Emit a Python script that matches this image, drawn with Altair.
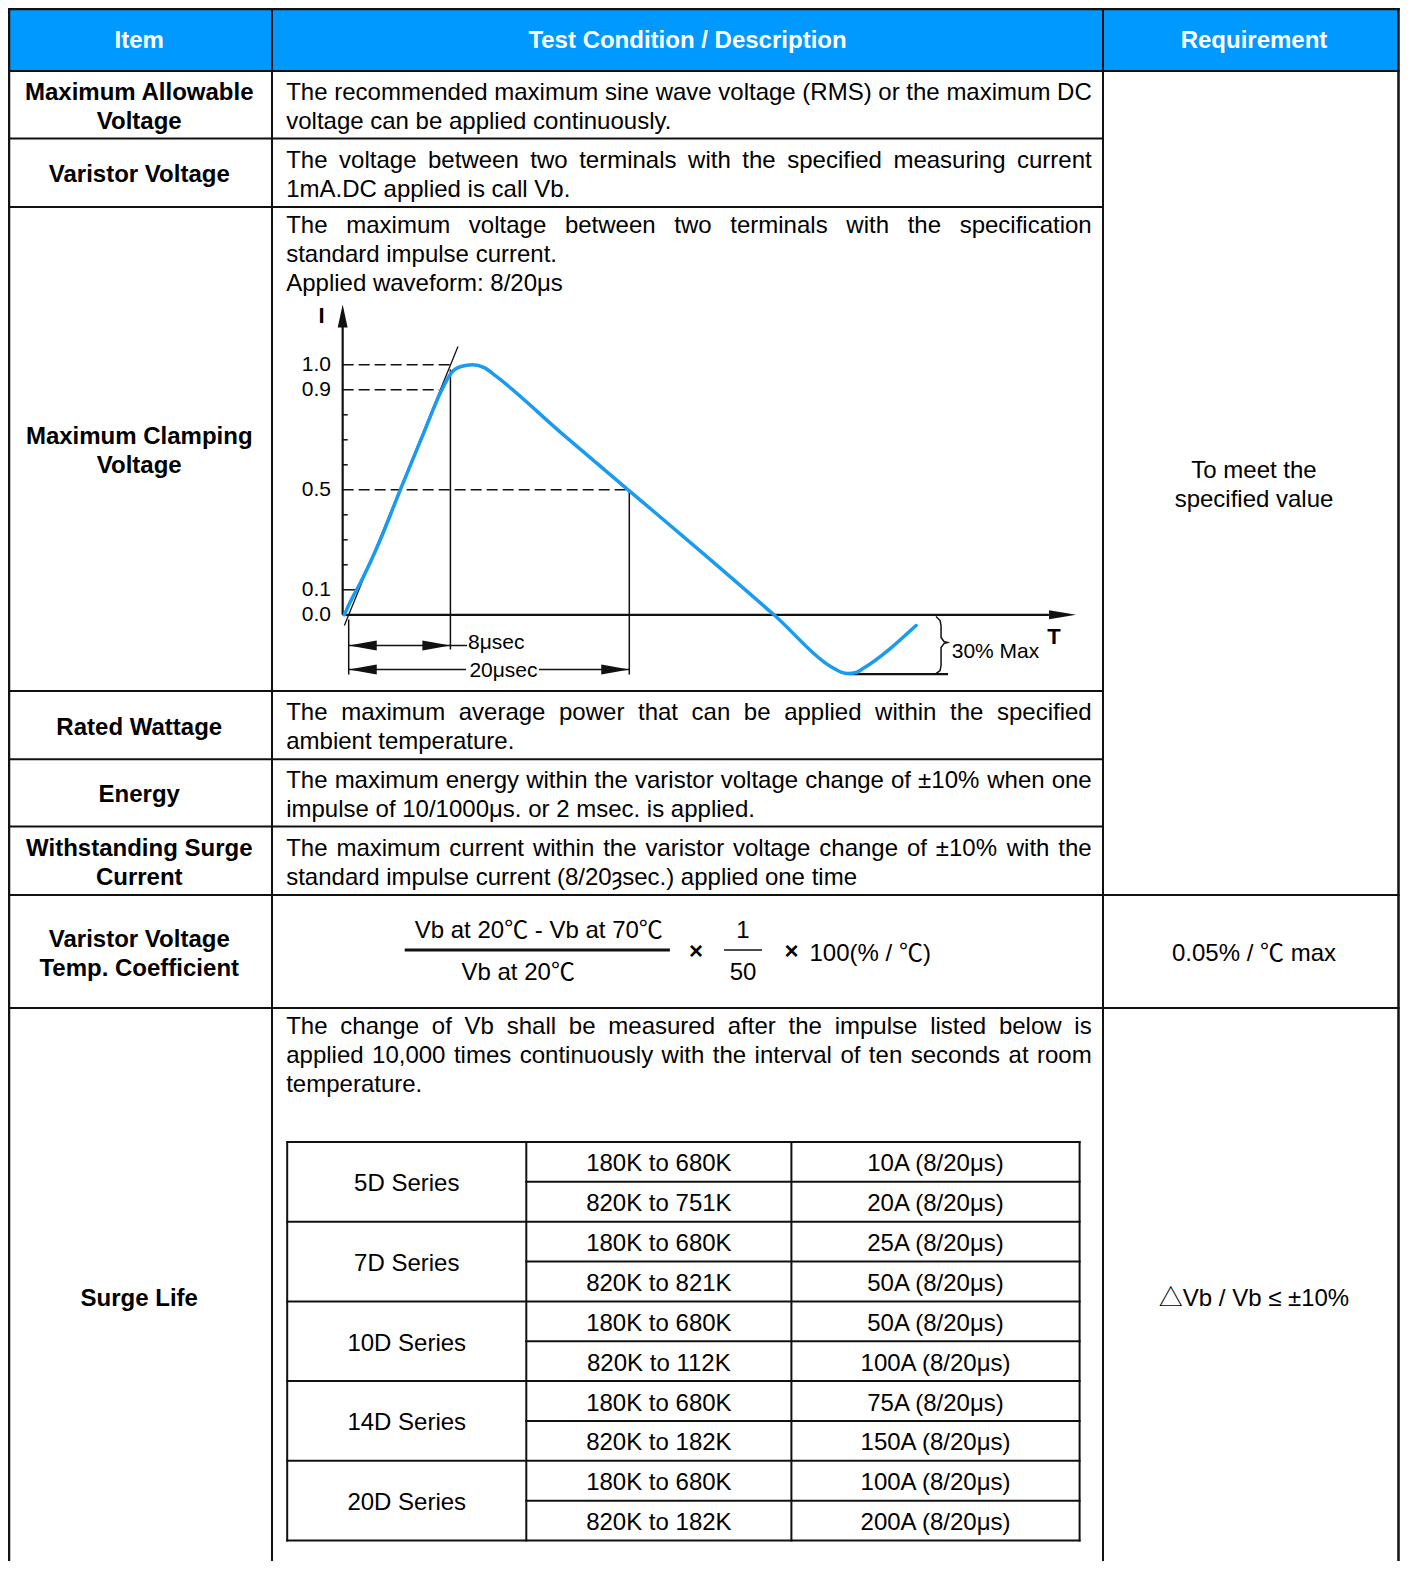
import altair as alt
import pandas as pd

# ============================ content ============================
header_labels = ["Item", "Test Condition / Description", "Requirement"]

item_labels = [
    ["Maximum Allowable", "Voltage"],
    ["Varistor Voltage"],
    ["Maximum Clamping", "Voltage"],
    ["Rated Wattage"],
    ["Energy"],
    ["Withstanding Surge", "Current"],
    ["Varistor Voltage", "Temp. Coefficient"],
    ["Surge Life"],
]

# each row: list of paragraphs, each paragraph a list of lines
description_paragraphs = [
    [["The recommended maximum sine wave voltage (RMS) or the maximum DC",
      "voltage can be applied continuously."]],
    [["The voltage between two terminals with the specified measuring current",
      "1mA.DC applied is call Vb."]],
    [["The maximum voltage between two terminals with the specification",
      "standard impulse current."],
     ["Applied waveform: 8/20μs"]],
    [["The maximum average power that can be applied within the specified",
      "ambient temperature."]],
    [["The maximum energy within the varistor voltage change of ±10% when one",
      "impulse of 10/1000μs. or 2 msec. is applied."]],
    [["The maximum current within the varistor voltage change of ±10% with the",
      "standard impulse current (8/20ȝsec.) applied one time"]],
    [],
    [["The change of Vb shall be measured after the impulse listed below is",
      "applied 10,000 times continuously with the interval of ten seconds at room",
      "temperature."]],
]
description_top = [False, False, True, False, False, False, False, True]

requirement_texts = [["To meet the", "specified value"], ["0.05% / ℃ max"], ["△Vb / Vb ≤ ±10%"]]
requirement_rows = [(0, 5), (6, 6), (7, 7)]

formula_numerator = "Vb at 20℃ - Vb at 70℃"
formula_denominator = "Vb at 20℃"
formula_factor_num = "1"
formula_factor_den = "50"
formula_times = "×"
formula_tail = "100(% / ℃)"

surge_series = ["5D Series", "7D Series", "10D Series", "14D Series", "20D Series"]
surge_ranges = ["180K to 680K", "820K to 751K", "180K to 680K", "820K to 821K",
                "180K to 680K", "820K to 112K", "180K to 680K", "820K to 182K",
                "180K to 680K", "820K to 182K"]
surge_currents = ["10A (8/20μs)", "20A (8/20μs)", "25A (8/20μs)", "50A (8/20μs)",
                  "50A (8/20μs)", "100A (8/20μs)", "75A (8/20μs)", "150A (8/20μs)",
                  "100A (8/20μs)", "200A (8/20μs)"]

# ---------------- waveform 8/20 (schematic time, current / peak) ----------------
wave_t = [-0.31, 0.09, 0.88, 2.30, 3.72, 5.39, 6.58, 7.29, 8.00, 8.84, 9.66, 10.38,
          15.1, 20.00, 25.11, 30.31, 34.59, 35.09, 35.59, 36.16, 36.66, 40.44]
wave_i = [0.0, 0.049, 0.133, 0.306, 0.506, 0.733, 0.893, 0.966, 0.993, 1.0, 0.989, 0.96,
          0.73, 0.496, 0.253, 0.0, -0.215, -0.229, -0.235, -0.231, -0.215, -0.043]
tangent_t = [-0.31, 7.79]
tangent_i = [-0.043, 1.073]
level_values = [1.0, 0.9, 0.5]
level_ends = [7.3, 6.44, 20.0]
tick_label_values = [1.0, 0.9, 0.5, 0.1, 0.0]
tick_labels = ["1.0", "0.9", "0.5", "0.1", "0.0"]
minor_tick_values = [0.2, 0.3, 0.4, 0.6, 0.7, 0.8]
front_time = 7.25        # the "8μsec" marker as drawn
half_time = 20.0         # the "20μsec" marker as drawn
front_label = "8μsec"
half_label = "20μsec"
undershoot_level = -0.2376
undershoot_label = "30% Max"
undershoot_from = 35.65
brace_t = [41.86, 42.15, 42.22, 42.22, 42.43, 42.68, 42.43, 42.22, 42.22, 42.15, 41.86]
brace_i = [-0.007, -0.023, -0.043, -0.091, -0.107, -0.111, -0.115, -0.131, -0.203, -0.223, -0.235]

# ============================ layout ============================
FONT = "Liberation Sans, 'Noto Sans CJK SC', sans-serif"
INK = "#111111"
HEAD_BLUE = "#0099FF"
CURVE_BLUE = "#1A9BF2"
FS = 24
LH = 29
TDY = 1.5                            # text baseline nudge

PLOT_W, PLOT_H = 1392, 1553          # drawing area (page px 8 .. 8+size)
col_x = [6.5, 272, 1103, 1405]       # cell edges (for centring)
col_draw = [9.0, 272, 1103, 1398.5]  # drawn border lines
row_y = [6, 71, 138.6, 206.9, 691, 759.3, 826.5, 895, 1008, 1585]
TOP_DRAW = 9.0
BOTTOM = 1575
TEXT_L, TEXT_R = 286.2, 1091.7
sub_x = [287.2, 526.3, 791.4, 1079.6]
sub_top, sub_h = 1141.9, 39.87

W = {' ': 278, '!': 278, '"': 355, '#': 556, '$': 556, '%': 889, '&': 667, "'": 191,
     '(': 333, ')': 333, '*': 389, '+': 584, ',': 278, '-': 333, '.': 278, '/': 278,
     ':': 278, ';': 278, '<': 584, '=': 584, '>': 584, '?': 556, '@': 1015,
     '[': 278, ']': 278, '±': 584, 'μ': 576, 'ȝ': 500}
for ch in "0123456789":
    W[ch] = 556
for ch, w in zip("ABCDEFGHIJKLMNOPQRSTUVWXYZ",
                 [667, 667, 722, 722, 667, 611, 778, 722, 278, 500, 667, 556, 833, 722, 778,
                  667, 778, 722, 667, 611, 722, 667, 944, 667, 667, 611]):
    W[ch] = w
for ch, w in zip("abcdefghijklmnopqrstuvwxyz",
                 [556, 556, 500, 556, 556, 278, 556, 556, 222, 222, 500, 222, 833, 556, 556,
                  556, 556, 333, 500, 278, 556, 500, 722, 500, 500, 500]):
    W[ch] = w


def tw(s, size=FS):
    return sum(W.get(c, 556) for c in s) * size / 1000.0


def row_bounds(r):
    return row_y[r + 1], row_y[r + 2]


# ---------------- table geometry ----------------
seg = []
seg.append((col_draw[0], TOP_DRAW, col_draw[3], TOP_DRAW, 2.5))
seg.append((col_draw[0], row_y[1], col_draw[3], row_y[1], 2.2))
for b in range(2, 9):
    right = col_draw[2] if b <= 6 else col_draw[3]
    seg.append((col_draw[0], row_y[b], right, row_y[b], 2.0))
for i, cx in enumerate(col_draw):
    seg.append((cx, TOP_DRAW, cx, BOTTOM, 2.5 if i in (0, 3) else 2.0))
sub_y = [sub_top + k * sub_h for k in range(len(surge_ranges) + 1)]
for k, yy in enumerate(sub_y):
    left = sub_x[0] if k % 2 == 0 else sub_x[1]
    seg.append((left, yy, sub_x[3], yy, 2.0))
for cx in sub_x:
    seg.append((cx, sub_y[0], cx, sub_y[-1], 2.0))
seg_df = pd.DataFrame(seg, columns=["x", "y", "x2", "y2", "w"])

TXS = alt.Scale(domain=[8, 8 + PLOT_W], range=[0, PLOT_W], nice=False, zero=False)
TYS = alt.Scale(domain=[8, 8 + PLOT_H], range=[0, PLOT_H], nice=False, zero=False)


def TX(f):
    return alt.X(f, type="quantitative", scale=TXS, axis=None)


def TY(f):
    return alt.Y(f, type="quantitative", scale=TYS, axis=None)


head_df = pd.DataFrame({"x": [col_draw[0]], "y": [TOP_DRAW], "x2": [col_draw[3]], "y2": [row_y[1]]})
header_rect = alt.Chart(head_df).mark_rect(color=HEAD_BLUE).encode(
    x=TX("x"), x2="x2", y=TY("y"), y2="y2")

rules_layers = []
for wv in sorted(set(seg_df["w"])):
    rules_layers.append(
        alt.Chart(seg_df[seg_df["w"] == wv]).mark_rule(color=INK, strokeWidth=wv, strokeCap="square")
        .encode(x=TX("x"), x2="x2", y=TY("y"), y2="y2"))

# header texts
hdr = pd.DataFrame({"x": [(col_x[i] + col_x[i + 1]) / 2 for i in range(3)],
                    "y": [(row_y[0] + row_y[1]) / 2 + 1 + TDY] * 3, "t": header_labels})

# item texts
items = []
for r, lines in enumerate(item_labels):
    top, bot = row_bounds(r)
    c = (top + bot) / 2 + 1 + TDY
    n = len(lines)
    for i, s in enumerate(lines):
        items.append(((col_x[0] + col_x[1]) / 2, c + (i - (n - 1) / 2) * LH, s))
items_df = pd.DataFrame(items, columns=["x", "y", "t"])

# description words (justified like the source)
words = []
for r, paras in enumerate(description_paragraphs):
    lines = [(ln, j < len(p) - 1) for p in paras for j, ln in enumerate(p)]
    if not lines:
        continue
    top, bot = row_bounds(r)
    n = len(lines)
    for i, (ln, just) in enumerate(lines):
        if description_top[r]:
            yy = top + 17.3 + i * LH + TDY
        else:
            yy = (top + bot) / 2 + 1 + (i - (n - 1) / 2) * LH + TDY
        if just:
            ws = ln.split(" ")
            tot = sum(tw(w_) for w_ in ws)
            gap = (TEXT_R - TEXT_L - tot) / (len(ws) - 1)
            xx = TEXT_L
            for w_ in ws:
                words.append((xx, yy, w_))
                xx += tw(w_) + gap
        else:
            words.append((TEXT_L, yy, ln))
words_df = pd.DataFrame(words, columns=["x", "y", "t"])

# centred regular texts: requirements + sub-table
cent = []
for (r0, r1), lines in zip(requirement_rows, requirement_texts):
    top = row_y[r0 + 1]
    bot = row_y[r1 + 2]
    c = (top + bot) / 2 + 1 + TDY
    n = len(lines)
    for i, s in enumerate(lines):
        cent.append(((col_x[2] + col_x[3]) / 2, c + (i - (n - 1) / 2) * LH, s))
for g, s in enumerate(surge_series):
    cent.append(((sub_x[0] + sub_x[1]) / 2, (sub_y[2 * g] + sub_y[2 * g + 2]) / 2 + 1 + TDY, s))
for k in range(len(surge_ranges)):
    yy = (sub_y[k] + sub_y[k + 1]) / 2 + 1 + TDY
    cent.append(((sub_x[1] + sub_x[2]) / 2, yy, surge_ranges[k]))
    cent.append(((sub_x[2] + sub_x[3]) / 2, yy, surge_currents[k]))

# formula
f_top, f_bot = row_bounds(6)
fc = (f_top + f_bot) / 2
cent += [(538.8, fc - 20.5, formula_numerator), (518.2, fc + 21.5, formula_denominator),
         (743.0, fc - 20.5, formula_factor_num), (743.0, fc + 21.5, formula_factor_den)]
cent_df = pd.DataFrame(cent, columns=["x", "y", "t"])
times_df = pd.DataFrame({"x": [696.0, 791.4], "y": [fc, fc], "t": [formula_times] * 2})
tail_df = pd.DataFrame({"x": [809.5], "y": [fc + 2], "t": [formula_tail]})
bars_df = pd.DataFrame({"x": [404.7, 724.0], "x2": [669.9, 762.0], "y": [fc - 1.5, fc - 1.5],
                        "w": [3.0, 1.5]})


def ttext(df, **kw):
    base = dict(font=FONT, fontSize=FS, baseline="middle", color="#000000")
    base.update(kw)
    return alt.Chart(df).mark_text(**base).encode(x=TX("x"), y=TY("y"), text="t:N")


table_layers = [header_rect] + rules_layers + [
    ttext(hdr, fontWeight="bold", color="white", align="center"),
    ttext(items_df, fontWeight="bold", align="center"),
    ttext(words_df, align="left"),
    ttext(cent_df, align="center"),
    ttext(times_df, align="center", fontWeight="bold"),
    ttext(tail_df, align="left"),
    alt.Chart(bars_df[bars_df.w == 3.0]).mark_rule(color=INK, strokeWidth=3).encode(
        x=TX("x"), x2="x2", y=TY("y")),
    alt.Chart(bars_df[bars_df.w == 1.5]).mark_rule(color=INK, strokeWidth=1.5).encode(
        x=TX("x"), x2="x2", y=TY("y")),
]
table = alt.layer(*table_layers)

# ---------------- waveform ----------------
WXS = alt.Scale(domain=[0, 20], range=[340.7, 621.3], nice=False, zero=False)
WYS = alt.Scale(domain=[0, 1], range=[606.8, 356.8], nice=False, zero=False)


def WX(f):
    return alt.X(f, type="quantitative", scale=WXS, axis=None)


def WY(f):
    return alt.Y(f, type="quantitative", scale=WYS, axis=None)


AX_T = -0.43
axis_seg = pd.DataFrame([(AX_T, 0.0, AX_T, 1.16), (AX_T, 0.0, 49.91, 0.0),
                         (undershoot_from, undershoot_level, 42.72, undershoot_level)],
                        columns=["t", "i", "t2", "i2"])
thin = [(AX_T, v, -0.07, v) for v in minor_tick_values]
thin += [(AX_T, 0.1, 0.64, 0.1),
         (front_time, 0.981, front_time, -0.139),
         (half_time, 0.5, half_time, -0.239),
         (0.0, -0.019, 0.0, -0.239),
         (0.0, -0.123, 8.43, -0.123),
         (0.0, -0.219, 8.36, -0.219),
         (13.56, -0.219, half_time, -0.219)]
thin_seg = pd.DataFrame(thin, columns=["t", "i", "t2", "i2"])
dash_seg = pd.DataFrame({"t": [AX_T] * 3, "i": level_values, "t2": level_ends, "i2": level_values})

curve_df = pd.DataFrame({"t": wave_t, "i": wave_i})
tan_df = pd.DataFrame({"t": tangent_t, "i": tangent_i})
brace_df = pd.DataFrame({"t": brace_t, "i": brace_i, "o": list(range(len(brace_t)))})


def wrule(df, **kw):
    return alt.Chart(df).mark_rule(color=INK, **kw).encode(x=WX("t"), x2="t2", y=WY("i"), y2="i2")


arrow_up = pd.DataFrame({"t": [AX_T], "i": [1.195]})
arrow_right = pd.DataFrame({"t": [50.88, 6.25, 19.0], "i": [0.0, -0.123, -0.219],
                            "k": ["axis", "dim", "dim"]})
arrow_left = pd.DataFrame({"t": [1.0, 1.0], "i": [-0.123, -0.219]})


def arrow(df, shape, size):
    return alt.Chart(df).mark_point(shape=shape, filled=True, size=size, color=INK,
                                    opacity=1, strokeWidth=0).encode(x=WX("t"), y=WY("i"))


ticks_df = pd.DataFrame({"t": [-1.26] * len(tick_labels), "i": tick_label_values, "s": tick_labels})
left_lbl = pd.DataFrame({"t": [8.5, 42.98], "i": [-0.111, -0.147], "s": [front_label, undershoot_label]})
mid_lbl = pd.DataFrame({"t": [11.03], "i": [-0.223], "s": [half_label]})
axis_lbl = pd.DataFrame({"t": [-1.94, 50.27], "i": [1.197, -0.087], "s": ["I", "T"]})


def wtext(df, **kw):
    base = dict(font=FONT, fontSize=21, baseline="middle", color="#000000")
    base.update(kw)
    return alt.Chart(df).mark_text(**base).encode(x=WX("t"), y=WY("i"), text="s:N")


wave_layers = [
    wrule(dash_seg, strokeWidth=1.5, strokeDash=[11, 5]),
    wrule(thin_seg, strokeWidth=1.5),
    wrule(axis_seg, strokeWidth=2.2),
    alt.Chart(tan_df).mark_line(color=INK, strokeWidth=1.3).encode(x=WX("t"), y=WY("i")),
    alt.Chart(curve_df).mark_line(color=CURVE_BLUE, strokeWidth=3.5, interpolate="monotone",
                                  strokeCap="round").encode(x=WX("t"), y=WY("i")),
    alt.Chart(brace_df).mark_line(color=INK, strokeWidth=1.5).encode(
        x=WX("t"), y=WY("i"), order="o:Q"),
    arrow(arrow_up, "M0,-1L0.43,1L-0.43,1Z", 529),
    arrow(arrow_right[arrow_right.k == "axis"], "M1,0L-1,0.33L-1,-0.33Z", 729),
    arrow(arrow_right[arrow_right.k == "dim"], "M1,0L-1,0.357L-1,-0.357Z", 784),
    arrow(arrow_left, "M-1,0L1,0.357L1,-0.357Z", 784),
    wtext(ticks_df, align="right"),
    wtext(left_lbl, align="left"),
    wtext(mid_lbl, align="center"),
    wtext(axis_lbl, align="center", fontWeight="bold", fontSize=22),
]
wave = alt.layer(*wave_layers)

chart = alt.layer(table, wave).resolve_scale(x="independent", y="independent").properties(
    width=PLOT_W, height=PLOT_H, padding=0, autosize="none", background="white"
).configure_view(stroke=None)

chart.save("out.html", embed_options={"renderer": "svg", "actions": False})
